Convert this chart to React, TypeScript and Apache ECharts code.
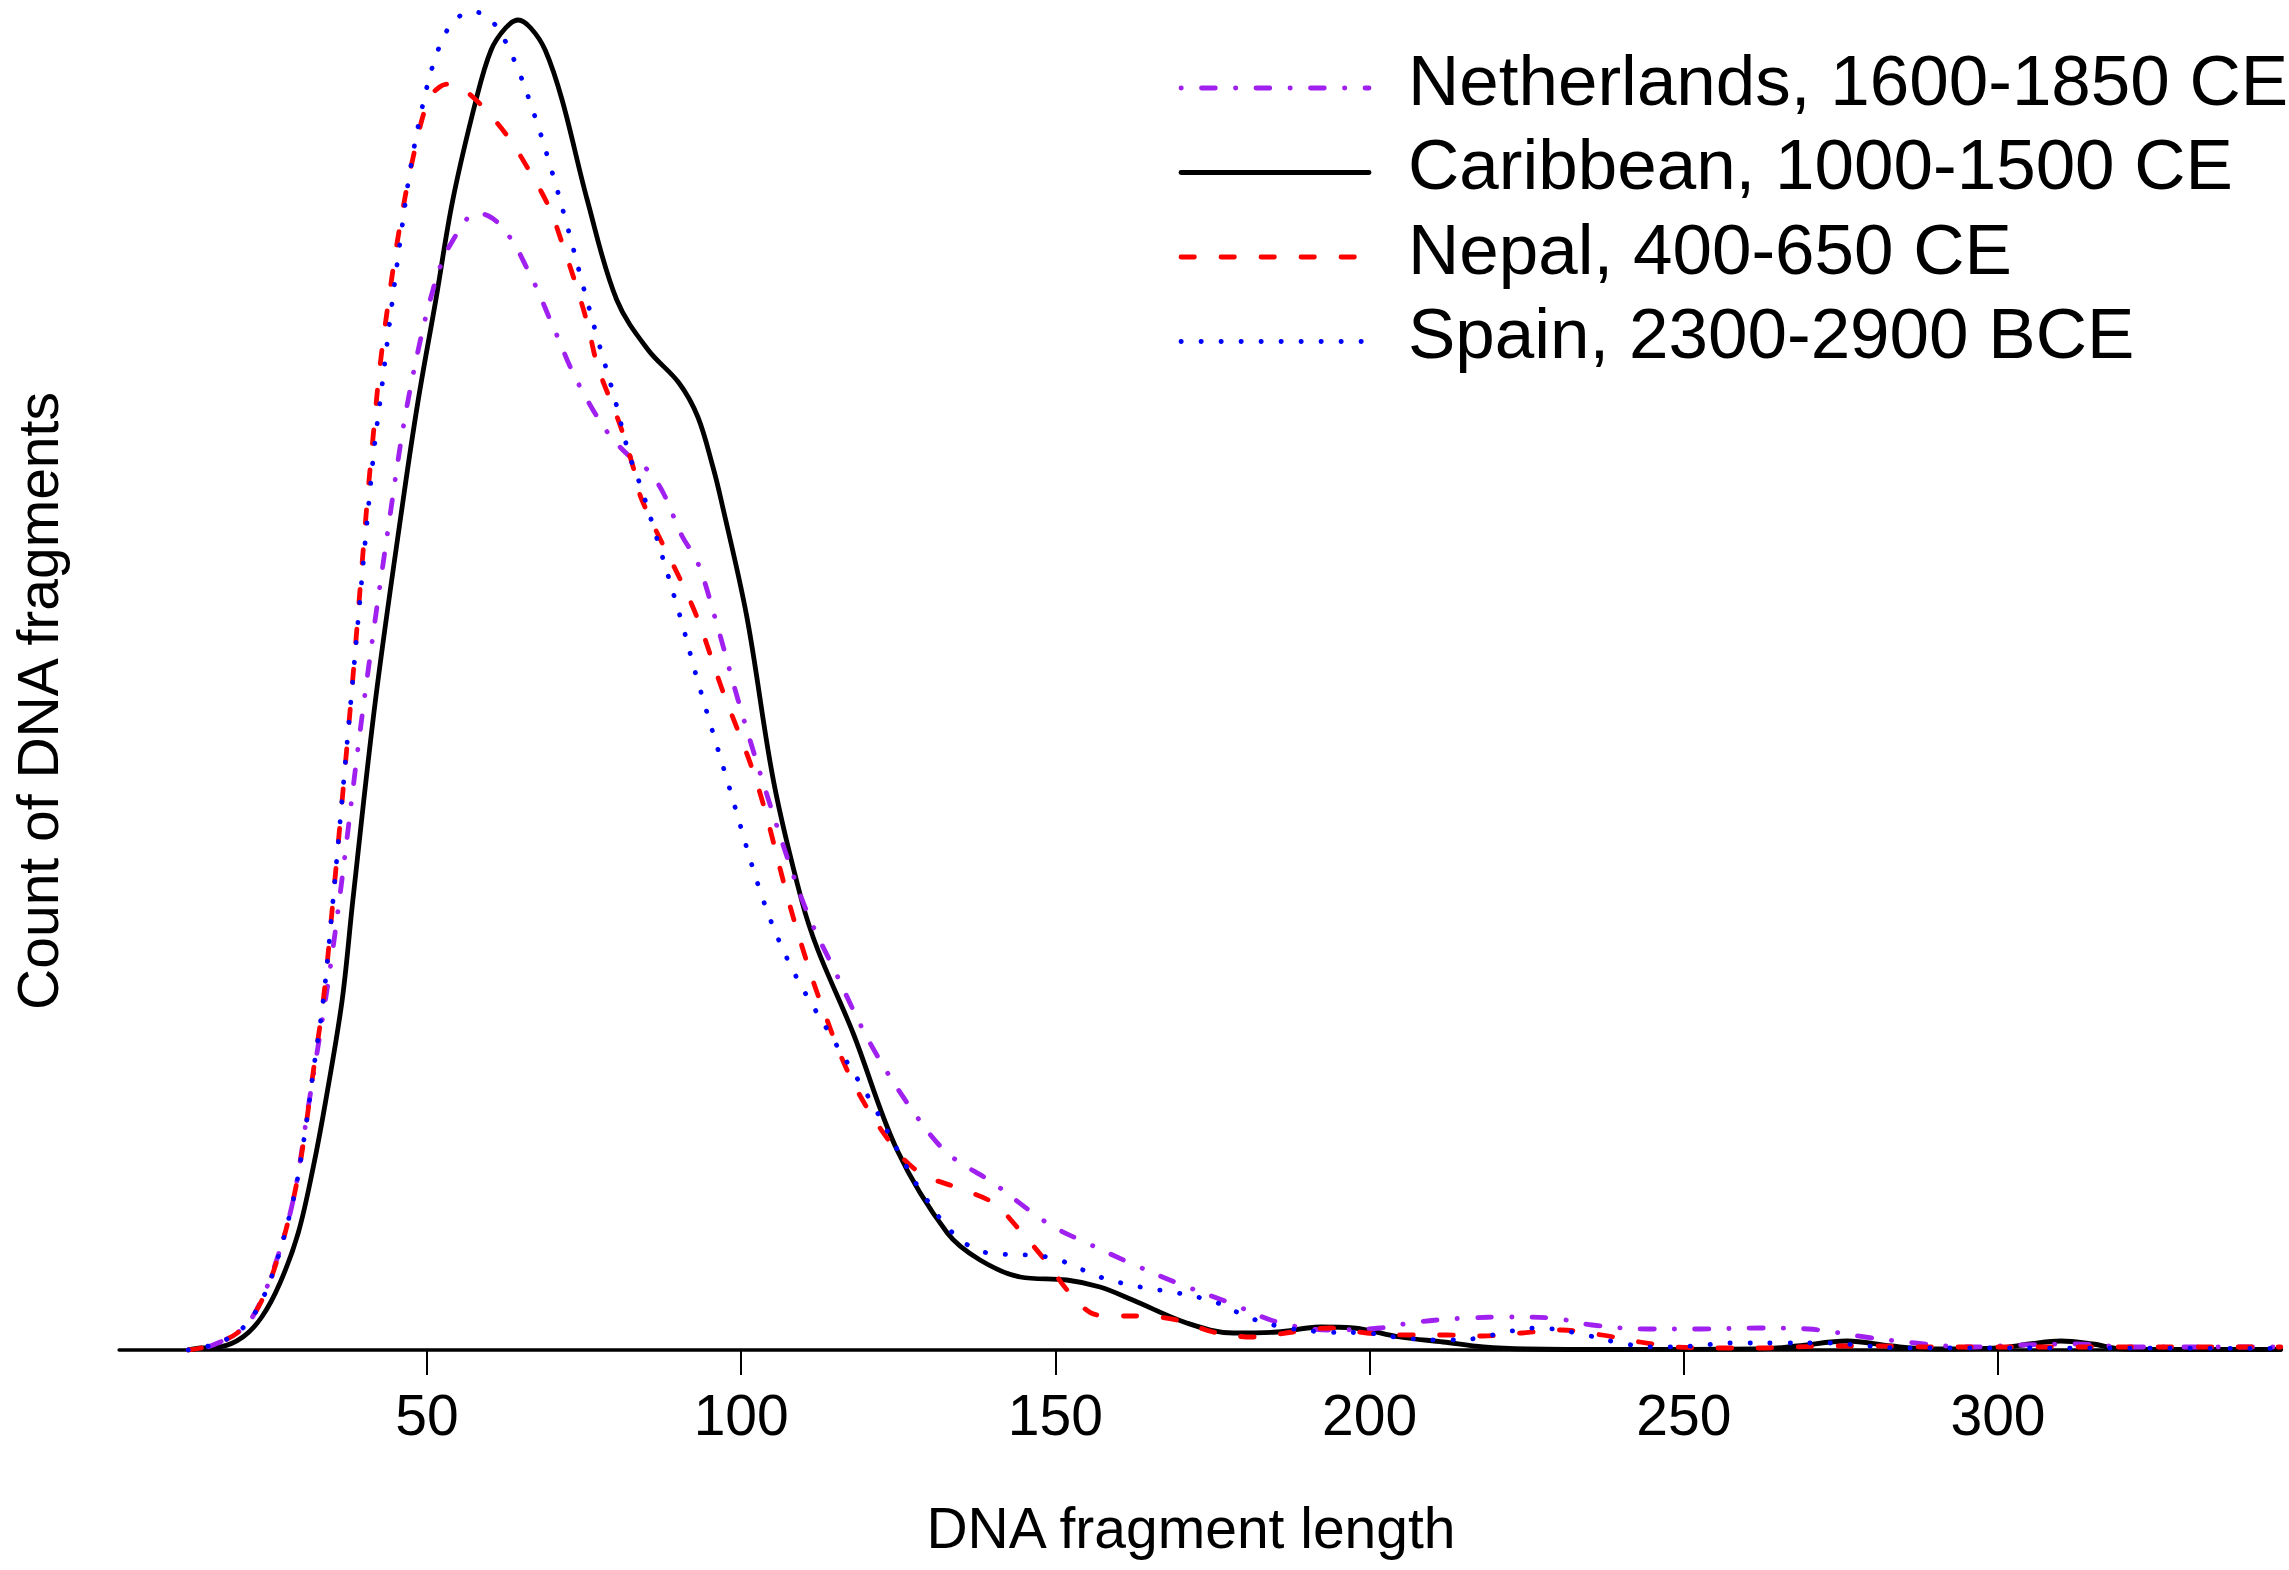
import React, { useEffect, useRef } from "react";
import * as echarts from "echarts";

// ---- data (x = DNA fragment length, y = relative count) ----
const seriesNames = [
  "Netherlands, 1600-1850 CE",
  "Caribbean, 1000-1500 CE",
  "Nepal, 400-650 CE",
  "Spain, 2300-2900 BCE",
];
const seriesColors = ["#A020F0", "#000000", "#FF0000", "#0000FF"];

const netherlands: [number, number][] = [
  [12, 0], [14, 1], [17.1, 8], [19.8, 17], [22.6, 37], [25.8, 85], [28.7, 150], [31.1, 243],
  [35, 400], [40, 650], [44.7, 860], [46.5, 933], [48.6, 1000], [50.5, 1050], [52.5, 1090],
  [54.8, 1117], [56.5, 1132], [58.1, 1137], [59.8, 1134], [61.3, 1127], [63.8, 1107],
  [65.8, 1083], [67.8, 1057], [69.4, 1033], [71.2, 1007], [72.8, 983], [75.5, 950],
  [78.8, 917], [82, 895], [85.1, 880], [87.6, 857], [90.5, 815], [93.1, 787], [95.8, 733],
  [99.5, 650], [103.5, 567], [108, 480], [111, 430], [114.6, 383], [120.5, 307],
  [127.2, 240], [132.8, 197], [140.1, 167], [146.4, 137], [150, 122], [155, 107],
  [161.9, 87], [169.4, 67], [177.8, 47], [185.3, 28], [193.7, 20], [201.7, 22], [206.4, 27],
  [210.7, 30], [215.5, 32], [222, 33], [229, 32], [235.4, 25], [244, 21], [252.7, 21],
  [261.8, 22], [269.8, 21], [278.8, 13], [286.8, 7], [295.4, 3], [303.8, 5], [312.4, 6],
  [321, 3], [330, 3], [345, 3],
];

const caribbean: [number, number][] = [
  [12, 0], [14, 2], [17, 3], [20.7, 13], [23.7, 33], [26.6, 67], [29.5, 117], [31.9, 183],
  [33.9, 250], [36.5, 350], [38.2, 450], [41.8, 650], [46.2, 850], [48.6, 950], [51.4, 1050],
  [54.1, 1150], [57.8, 1250], [60.2, 1300], [62.5, 1322], [64.5, 1330], [66.5, 1322],
  [68.8, 1300], [71.5, 1250], [75.5, 1150], [80.2, 1050], [85.2, 1000], [90.1, 967],
  [93.1, 933], [95.5, 883], [96.8, 850], [100.9, 733], [105.2, 567], [109.6, 450],
  [112.2, 400], [117.8, 317], [124.8, 200], [132.8, 117], [138, 90], [144.4, 73],
  [151.8, 70], [157.1, 63], [162.3, 50], [170.9, 27], [178.3, 17], [185.3, 18], [192.1, 23],
  [197.4, 22], [204.8, 13], [211.7, 8], [218.1, 3], [225, 1], [240, 0.5], [262, 1],
  [268, 4], [276, 9], [283, 4], [290, 1], [300, 2], [305, 6], [310, 9], [315, 6], [320, 1],
  [330, 0.5], [345, 0.5],
];

const nepal: [number, number][] = [
  [12, 0], [14, 2], [16.6, 7], [19.8, 17], [22.9, 40], [25.8, 83], [28.7, 150], [30.4, 210],
  [32, 283], [33.5, 350], [34.9, 440], [37.9, 650], [40.5, 850], [41.4, 912], [42.5, 983],
  [43.9, 1050], [45.5, 1117], [47.8, 1193], [50.2, 1250], [52, 1263], [53.5, 1266],
  [55.5, 1262], [58.9, 1243], [62.9, 1213], [66.2, 1180], [69.4, 1143], [71.5, 1107],
  [73.6, 1067], [75.5, 1027], [77.2, 983], [80.6, 927], [82.8, 883], [84.2, 850],
  [92.3, 743], [97, 660], [102.5, 567], [107.5, 450], [109.7, 403], [112.5, 350],
  [117.6, 270], [124, 205], [128.5, 177], [134.5, 162], [140.1, 147], [144.7, 117],
  [148.7, 87], [152.3, 57], [156.6, 35], [160, 34], [163.5, 34], [169.3, 30], [175.1, 18],
  [181.4, 13], [187.8, 18], [193.7, 22], [199.6, 17], [205.9, 15], [212.3, 15], [218, 14],
  [224.2, 17], [230.6, 20], [237, 15], [243, 8], [248.9, 3], [256, 2], [262, 2],
  [267.2, 3], [274.1, 4], [280.1, 4], [290, 3], [345, 3],
];

const spain: [number, number][] = [
  [12, 0], [14, 2], [16.6, 7], [19.8, 17], [22.9, 40], [25.8, 83], [28.7, 150], [30.4, 210],
  [32, 283], [33.5, 350], [34.9, 440], [37.9, 650], [41.4, 890], [42.8, 962], [44.3, 1040],
  [45.9, 1117], [47.2, 1175], [48.9, 1233], [51.1, 1288], [53.5, 1323], [55.7, 1336],
  [57.3, 1338], [58.8, 1336], [61.1, 1323], [64, 1288], [67.2, 1233], [69.9, 1178],
  [72.4, 1122], [74.8, 1065], [77.2, 1010], [79.8, 953], [82.1, 897], [84.2, 860],
  [90.3, 733], [92.9, 673], [97.9, 567], [103.5, 450], [108.2, 380], [114.5, 312],
  [120.8, 247], [125.3, 195], [128.5, 160], [134, 115], [139.3, 97], [145.6, 95],
  [148.7, 93], [151.5, 88], [157.1, 73], [163.5, 63], [169.5, 57], [175.4, 48], [181, 32],
  [186.9, 22], [192.9, 18], [199.6, 17], [205.3, 12], [211.7, 10], [217.6, 12], [220.9, 17],
  [226.8, 22], [233, 17], [239.1, 8], [245.1, 3], [251.5, 4], [257.5, 7], [265, 7],
  [273, 7], [279.2, 4], [285, 2], [300, 2], [345, 1.5],
];

const tickValues = [50, 100, 150, 200, 250, 300];
const xTitle = "DNA fragment length";
const yTitle = "Count of DNA fragments";

// ---- styles ----
const FONT = "'Liberation Sans', Arial, Helvetica, sans-serif";
const LW = 4.8;
const dashes: (number[] | "solid")[] = [
  [0.3, 20.2, 13.8, 20.2],
  "solid",
  [13.4, 26.6],
  [0.3, 19.7],
];

export default function App() {
  const ref = useRef<HTMLDivElement>(null);

  useEffect(() => {
    if (!ref.current) return;
    const chart = echarts.init(ref.current, undefined, { renderer: "svg" });
    const dataSets = [netherlands, caribbean, nepal, spain];
    const drawOrder = [1, 0, 2, 3];

    const series = drawOrder.map((i) => ({
      name: seriesNames[i],
      type: "line",
      data: dataSets[i],
      showSymbol: false,
      symbol: "none",
      smooth: 0.35,
      silent: true,
      z: 2 + drawOrder.indexOf(i),
      lineStyle: {
        color: seriesColors[i],
        width: LW,
        type: dashes[i],
        cap: "round",
        join: "round",
      },
    }));

    const legendTop = 88;
    const legendStep = 84.5;
    const legendGraphics: any[] = [];
    seriesNames.forEach((name, i) => {
      const y = legendTop + i * legendStep;
      legendGraphics.push({
        type: "line",
        shape: { x1: 1181, y1: y, x2: 1369, y2: y },
        style: {
          stroke: seriesColors[i],
          lineWidth: LW,
          lineDash: dashes[i] === "solid" ? null : dashes[i],
          lineCap: "round",
        },
      });
      legendGraphics.push({
        type: "text",
        x: 1408,
        y: y - 8,
        style: {
          text: name,
          fontSize: 71,
          fontFamily: FONT,
          fill: "#000",
          align: "left",
          verticalAlign: "middle",
        },
      });
    });

    chart.setOption({
      animation: false,
      backgroundColor: "#ffffff",
      grid: { left: 119.1, right: 8.2, top: 0, bottom: 220, containLabel: false },
      xAxis: {
        type: "value",
        min: 1,
        max: 345,
        splitLine: { show: false },
        axisLine: { show: true, lineStyle: { color: "#000", width: 3.5 } },
        axisTick: {
          show: true,
          customValues: tickValues,
          length: 25,
          lineStyle: { color: "#000", width: 2 },
        },
        axisLabel: {
          show: true,
          customValues: tickValues,
          fontSize: 57,
          fontFamily: FONT,
          color: "#000",
          margin: 65,
          verticalAlign: "middle",
        },
      },
      yAxis: {
        type: "value",
        min: 0,
        max: 1350,
        show: false,
        splitLine: { show: false },
      },
      series,
      graphic: [
        ...legendGraphics,
        {
          type: "text",
          x: 1191,
          y: 1528,
          style: {
            text: xTitle,
            fontSize: 57,
            fontFamily: FONT,
            fill: "#000",
            align: "center",
            verticalAlign: "middle",
          },
        },
        {
          type: "text",
          x: 38,
          y: 701,
          rotation: Math.PI / 2,
          style: {
            text: yTitle,
            fontSize: 57,
            fontFamily: FONT,
            fill: "#000",
            align: "center",
            verticalAlign: "middle",
          },
        },
      ],
    });

    return () => chart.dispose();
  }, []);

  return (
    <div
      ref={ref}
      style={{
        position: "fixed",
        left: 0,
        top: 0,
        width: 2289,
        height: 1570,
        background: "#fff",
      }}
    />
  );
}
